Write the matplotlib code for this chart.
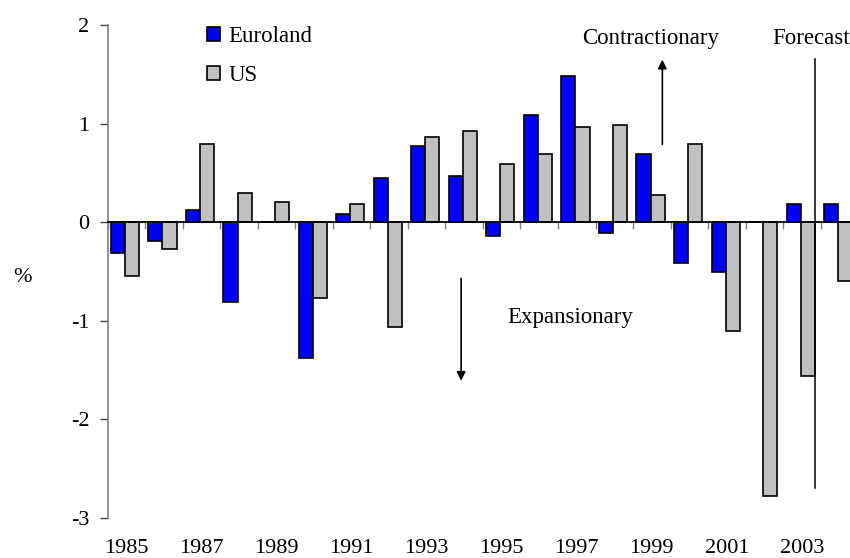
import matplotlib
matplotlib.use("Agg")
import matplotlib.pyplot as plt
import numpy as np

years = list(range(1985, 2005))
euroland = [-0.31, -0.19, 0.12, -0.81, 0.0, -1.38, 0.08, 0.445, 0.77, 0.47,
            -0.14, 1.09, 1.48, -0.11, 0.69, -0.41, -0.51, 0.0, 0.18, 0.18]
us = [-0.55, -0.27, 0.79, 0.30, 0.20, -0.77, 0.185, -1.06, 0.87, 0.93,
      0.59, 0.69, 0.97, 0.99, 0.28, 0.79, -1.10, -2.78, -1.56, -0.60]
yticks = [-3, -2, -1, 0, 1, 2]
year_labels = [str(y) if (y - 1985) % 2 == 0 else "" for y in years]

plt.rcParams['font.family'] = ['Liberation Serif', 'DejaVu Serif']
FS = 16
FS_T = 16.5

fig = plt.figure(figsize=(8.5, 5.58), dpi=100)
ax = fig.add_axes([107.5 / 850, 1 - 517.7 / 558, (858.3 - 107.5) / 850, 492.5 / 558])

x = np.arange(len(years))
w = 0.375
off_e, off_u = -0.2225, 0.1525
ax.bar(x + off_e, euroland, w, color='#0000FF', edgecolor='black', linewidth=1.2,
       label='Euroland', zorder=3)
ax.bar(x + off_u, us, w, color='#C0C0C0', edgecolor='black', linewidth=1.2,
       label='US', zorder=3)

ax.set_xlim(-0.5, len(years) - 0.5)
ax.set_ylim(-3, 2)

# spines
for s in ['top', 'right']:
    ax.spines[s].set_visible(False)
ax.spines['left'].set_color('#808080')
ax.spines['left'].set_linewidth(1.2)
ax.spines['bottom'].set_position(('data', 0))
ax.spines['bottom'].set_color('black')
ax.spines['bottom'].set_linewidth(1.3)
ax.spines['bottom'].set_zorder(4)

ax.set_yticks(yticks)
ax.set_yticklabels([str(t) for t in yticks], fontsize=FS)
ax.tick_params(axis='y', direction='out', length=6, width=1, color='#404040', pad=7)

ax.set_xticks(np.arange(len(years) + 1) - 0.5)
ax.set_xticklabels([])
ax.tick_params(axis='x', direction='out', length=5, width=1, color='#808080')

sec = ax.secondary_xaxis(0)
sec.set_xticks(x)
sec.set_xticklabels(year_labels, fontsize=FS)
sec.tick_params(length=0, pad=15)
sec.spines['bottom'].set_visible(False)

fig.text(23 / 850, 1 - 277 / 558, '%', fontsize=FS, ha='center', va='center')

# Forecast line at right edge of the 2003 US bar
i03 = years.index(2003)
fx = i03 + off_u + w / 2
ax.plot([fx, fx], [-2.70, 1.66], color='black', linewidth=1.1, zorder=5)

ax.text(18.23, 1.866, 'Forecast', fontsize=FS_T, ha='center', va='center')
ax.text(13.98, 1.866, 'Contractionary', fontsize=FS_T, ha='center', va='center')
ax.text(11.82, -0.97, 'Expansionary', fontsize=FS_T, ha='center', va='center')

ax.annotate('', xy=(14.28, 1.65), xytext=(14.28, 0.79),
            arrowprops=dict(arrowstyle='-|>', color='black', lw=1.2,
                            mutation_scale=13, shrinkA=0, shrinkB=0))
ax.annotate('', xy=(8.92, -1.61), xytext=(8.92, -0.57),
            arrowprops=dict(arrowstyle='-|>', color='black', lw=1.2,
                            mutation_scale=13, shrinkA=0, shrinkB=0))

leg = ax.legend(loc='upper left', bbox_to_anchor=(207 / 850, 1 - 26 / 558),
                bbox_transform=fig.transFigure, frameon=False, fontsize=FS_T,
                handlelength=0.55, handleheight=0.55, handletextpad=0.4,
                labelspacing=0.78, borderaxespad=0, borderpad=0)

fig.savefig('out.png', dpi=100)
